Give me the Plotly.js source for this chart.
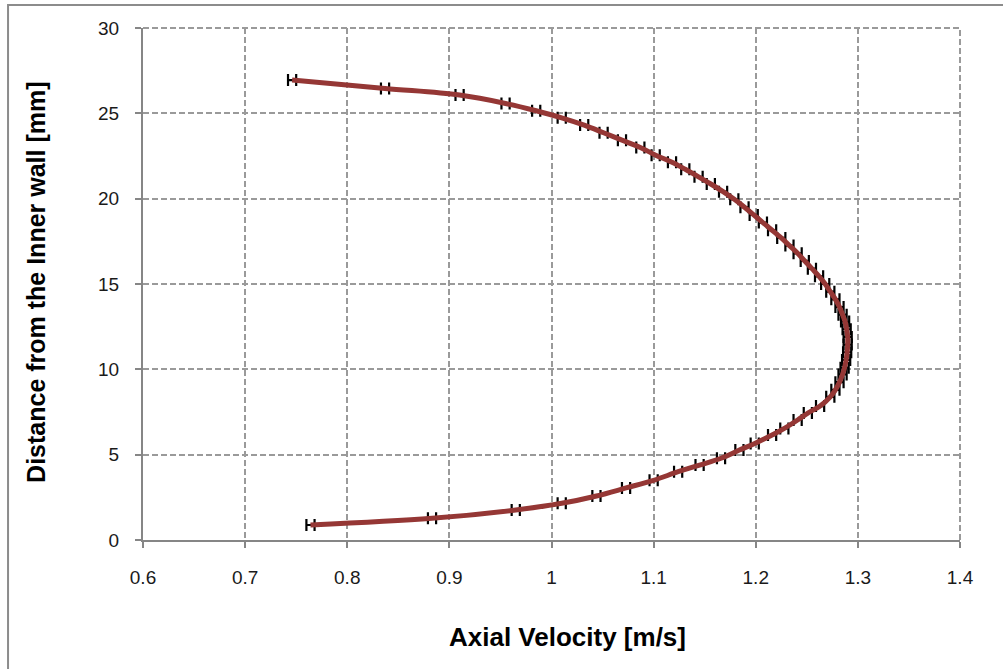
<!DOCTYPE html>
<html>
<head>
<meta charset="utf-8">
<script src="https://cdn.plot.ly/plotly-3.0.1.min.js"></script>
<style>
  html, body { margin: 0; padding: 0; background: #ffffff; }
  #chart { width: 1003px; height: 669px; }
</style>
</head>
<body>
<div id="chart"></div>
<script>
// Axial velocity [m/s] along the profile (top of channel to bottom)
const axialVelocity = [
  0.746, 0.837, 0.910, 0.955, 0.985, 1.010, 1.032, 1.051, 1.069, 1.087,
  1.102, 1.118, 1.131, 1.144, 1.156, 1.168, 1.179, 1.189, 1.198, 1.207,
  1.216, 1.225, 1.233, 1.241, 1.248, 1.255, 1.262, 1.268, 1.273, 1.278,
  1.282, 1.285, 1.2875, 1.289, 1.290, 1.290, 1.2895, 1.2885, 1.287, 1.285,
  1.282, 1.278, 1.273, 1.263, 1.251, 1.241, 1.228, 1.216, 1.199, 1.184,
  1.166, 1.145, 1.124, 1.100, 1.073, 1.044, 1.010, 0.965, 0.883, 0.764
];
// Distance from the inner wall [mm]
const distance = [
  26.95, 26.46, 26.07, 25.58, 25.15, 24.74, 24.31, 23.86, 23.43, 23.00,
  22.55, 22.13, 21.72, 21.28, 20.86, 20.41, 19.96, 19.50, 19.05, 18.60,
  18.15, 17.70, 17.25, 16.80, 16.35, 15.90, 15.45, 15.00, 14.55, 14.10,
  13.65, 13.20, 12.80, 12.35, 11.90, 11.45, 11.00, 10.55, 10.10, 9.70,
  9.25, 8.80, 8.39, 7.85, 7.44, 7.03, 6.54, 6.15, 5.66, 5.27,
  4.79, 4.39, 4.00, 3.50, 3.05, 2.58, 2.15, 1.76, 1.27, 0.88
];
// Horizontal error (velocity uncertainty) [m/s]
const velocityError = 0.004;

const xTickVals = [0.6, 0.7, 0.8, 0.9, 1.0, 1.1, 1.2, 1.3, 1.4];
const xTickText = ['0.6', '0.7', '0.8', '0.9', '1', '1.1', '1.2', '1.3', '1.4'];
const yTickVals = [0, 5, 10, 15, 20, 25, 30];
const yTickText = ['0', '5', '10', '15', '20', '25', '30'];

const FONT = 'Liberation Sans, Arial, sans-serif';
const GRID = '#9a9a9a';
const AXIS = '#868686';

const errTrace = {
  x: axialVelocity,
  y: distance,
  type: 'scatter',
  mode: 'markers',
  marker: { size: 1, color: 'rgba(0,0,0,0)' },
  error_x: {
    type: 'constant',
    value: velocityError,
    color: '#000000',
    thickness: 2.2,
    width: 6
  },
  hoverinfo: 'skip'
};

const lineTrace = {
  x: axialVelocity,
  y: distance,
  type: 'scatter',
  mode: 'lines',
  line: { color: '#953735', width: 5, shape: 'spline', smoothing: 1 },
  hoverinfo: 'skip'
};

const axisCommon = {
  showgrid: true,
  gridcolor: GRID,
  gridwidth: 2,
  griddash: '6px,3px',
  showline: true,
  linecolor: AXIS,
  linewidth: 2,
  ticks: 'outside',
  ticklen: 6,
  tickwidth: 2,
  tickcolor: AXIS,
  zeroline: false,
  tickfont: { family: FONT, size: 19, color: '#1a1a1a' },
  tickmode: 'array',
  fixedrange: true
};

const layout = {
  width: 1003,
  height: 669,
  margin: { l: 143, r: 43, t: 28, b: 129, pad: 0 },
  paper_bgcolor: '#ffffff',
  plot_bgcolor: '#ffffff',
  showlegend: false,
  hovermode: false,
  xaxis: Object.assign({}, axisCommon, {
    range: [0.6, 1.4],
    tickvals: xTickVals,
    ticktext: xTickText,
    ticklabelstandoff: 13
  }),
  yaxis: Object.assign({}, axisCommon, {
    range: [0, 30],
    tickvals: yTickVals,
    ticktext: yTickText,
    ticklabelstandoff: 12
  }),
  annotations: [
    {
      text: 'Axial Velocity [m/s]',
      xref: 'paper', yref: 'paper',
      x: 0.520, y: -0.189,
      xanchor: 'center', yanchor: 'middle',
      showarrow: false,
      font: { family: FONT, size: 26, color: '#000000', weight: 'bold' }
    },
    {
      text: 'Distance from the Inner wall [mm]',
      xref: 'paper', yref: 'paper',
      x: -0.131, y: 0.504,
      xanchor: 'center', yanchor: 'middle',
      textangle: -90,
      showarrow: false,
      font: { family: FONT, size: 25, color: '#000000', weight: 'bold' }
    }
  ],
  shapes: [
    {
      type: 'line', xref: 'paper', yref: 'paper',
      x0: 0, y0: 1, x1: 1, y1: 1,
      line: { color: GRID, width: 2, dash: '6px,3px' }
    },
    {
      type: 'line', xref: 'paper', yref: 'paper',
      x0: 1, y0: 0, x1: 1, y1: 1,
      line: { color: GRID, width: 2, dash: '6px,3px' }
    },
    {
      type: 'rect', xref: 'paper', yref: 'paper',
      x0: -0.1652, y0: -0.35, x1: 1.2, y1: 1.0449,
      line: { color: '#8c8c8c', width: 2 },
      fillcolor: 'rgba(0,0,0,0)'
    }
  ]
};

Plotly.newPlot('chart', [errTrace, lineTrace], layout, { staticPlot: true, displayModeBar: false });
</script>
</body>
</html>
